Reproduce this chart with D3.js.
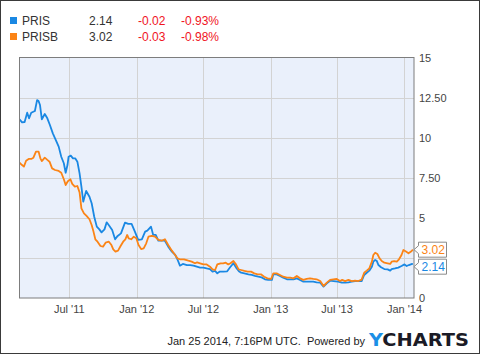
<!DOCTYPE html>
<html><head><meta charset="utf-8">
<script src="https://cdn.jsdelivr.net/npm/d3@7"></script>
<style>
html,body{margin:0;padding:0;background:#fff;}
svg{display:block;font-family:"Liberation Sans",Arial,sans-serif;}
</style></head>
<body><svg id="c" width="480" height="354"></svg>
<script>
const tickLabels = ["Jul '11","Jan '12","Jul '12","Jan '13","Jul '13","Jan '14"];
const tickDates = ["2011-07-01","2012-01-01","2012-07-01","2013-01-01","2013-07-01","2014-01-01"];
const yTicks = [0,2.5,5,7.5,10,12.5,15];

const prisDates = ["2011-02-15","2011-02-22","2011-03-01","2011-03-08","2011-03-13","2011-03-19","2011-03-29","2011-04-04","2011-04-08","2011-04-12","2011-04-17","2011-04-25","2011-05-02","2011-05-09","2011-05-17","2011-05-27","2011-06-02","2011-06-09","2011-06-16","2011-06-21","2011-06-26","2011-06-29","2011-07-05","2011-07-11","2011-07-17","2011-07-23","2011-07-29","2011-08-03","2011-08-08","2011-08-16","2011-08-25","2011-08-31","2011-09-07","2011-09-14","2011-09-21","2011-09-27","2011-10-05","2011-10-11","2011-10-18","2011-10-26","2011-11-03","2011-11-10","2011-11-19","2011-11-30","2011-12-09","2011-12-18","2011-12-27","2012-01-05","2012-01-15","2012-01-24","2012-01-30","2012-02-09","2012-02-15","2012-02-22","2012-02-29","2012-03-09","2012-03-18","2012-03-27","2012-04-06","2012-04-15","2012-04-21","2012-04-28","2012-05-06","2012-05-17","2012-05-26","2012-06-04","2012-06-13","2012-06-22","2012-07-01","2012-07-10","2012-07-19","2012-07-26","2012-08-02","2012-08-08","2012-08-15","2012-08-24","2012-09-04","2012-09-12","2012-09-21","2012-09-30","2012-10-07","2012-10-12","2012-10-21","2012-11-01","2012-11-10","2012-11-19","2012-11-28","2012-12-07","2012-12-16","2012-12-25","2013-01-04","2013-01-08","2013-01-17","2013-01-26","2013-02-04","2013-02-14","2013-02-23","2013-03-04","2013-03-13","2013-03-22","2013-03-31","2013-04-09","2013-04-18","2013-04-27","2013-05-06","2013-05-16","2013-05-25","2013-06-03","2013-06-12","2013-06-21","2013-07-04","2013-07-14","2013-07-23","2013-08-01","2013-08-10","2013-08-19","2013-08-28","2013-09-06","2013-09-13","2013-09-20","2013-09-27","2013-10-04","2013-10-08","2013-10-13","2013-10-17","2013-10-22","2013-10-29","2013-11-07","2013-11-16","2013-11-23","2013-11-27","2013-12-06","2013-12-15","2013-12-24","2014-01-01","2014-01-07","2014-01-13","2014-01-22","2014-01-24"];
const prisValues = [11.17,10.98,11.0,11.58,11.23,11.58,11.69,12.37,12.31,12.06,11.17,11.5,11.23,10.81,10.29,9.77,9.46,8.83,8.42,7.83,8.31,8.83,8.9,8.73,8.73,8.52,7.79,6.96,6.02,6.69,6.33,5.92,5.08,4.46,4.29,4.1,4.29,4.73,4.52,4.25,3.67,3.88,4.04,4.71,4.63,4.63,4.15,3.63,3.67,4.15,4.21,4.46,3.94,3.94,3.58,3.58,3.58,3.21,2.9,2.69,2.42,2.02,2.13,2.06,2.06,2.02,1.96,1.9,1.9,1.85,1.81,1.65,1.69,1.54,1.65,1.65,1.67,1.92,2.17,1.85,1.65,1.58,1.54,1.48,1.44,1.38,1.33,1.29,1.17,1.13,1.13,1.48,1.48,1.38,1.27,1.17,1.17,1.17,1.23,1.13,1.02,1.02,1.02,1.02,0.98,0.96,0.71,0.92,1.08,1.06,1.02,0.96,0.96,0.98,1.02,1.06,1.06,1.06,1.44,1.58,1.71,1.96,2.27,2.38,2.33,2.06,1.92,1.81,1.79,1.71,1.81,1.85,1.9,2.0,2.1,2.0,2.06,2.13,2.14];

const prisbDates = ["2011-02-15","2011-02-22","2011-02-27","2011-03-05","2011-03-12","2011-03-19","2011-03-25","2011-04-01","2011-04-08","2011-04-13","2011-04-17","2011-04-25","2011-05-02","2011-05-08","2011-05-15","2011-05-23","2011-06-02","2011-06-09","2011-06-16","2011-06-21","2011-06-27","2011-07-04","2011-07-09","2011-07-16","2011-07-23","2011-07-29","2011-08-03","2011-08-10","2011-08-17","2011-08-25","2011-08-31","2011-09-05","2011-09-10","2011-09-16","2011-09-24","2011-10-01","2011-10-08","2011-10-17","2011-10-24","2011-10-29","2011-11-04","2011-11-11","2011-11-18","2011-11-25","2011-12-01","2011-12-06","2011-12-10","2011-12-17","2011-12-24","2011-12-31","2012-01-06","2012-01-13","2012-01-20","2012-01-27","2012-02-02","2012-02-11","2012-02-20","2012-02-29","2012-03-09","2012-03-18","2012-03-27","2012-04-06","2012-04-15","2012-04-21","2012-04-28","2012-05-09","2012-05-21","2012-05-30","2012-06-08","2012-06-14","2012-06-22","2012-07-01","2012-07-10","2012-07-19","2012-07-26","2012-08-02","2012-08-08","2012-08-17","2012-08-24","2012-08-31","2012-09-07","2012-09-13","2012-09-21","2012-09-28","2012-10-05","2012-10-12","2012-10-21","2012-10-30","2012-11-08","2012-11-17","2012-11-26","2012-12-05","2012-12-14","2012-12-23","2013-01-02","2013-01-08","2013-01-17","2013-01-26","2013-02-04","2013-02-14","2013-02-23","2013-03-04","2013-03-13","2013-03-22","2013-03-31","2013-04-09","2013-04-18","2013-04-27","2013-05-06","2013-05-16","2013-05-25","2013-06-03","2013-06-12","2013-06-21","2013-06-30","2013-07-09","2013-07-15","2013-07-23","2013-08-01","2013-08-10","2013-08-19","2013-08-28","2013-09-06","2013-09-13","2013-09-20","2013-09-27","2013-10-04","2013-10-08","2013-10-13","2013-10-19","2013-10-25","2013-10-31","2013-11-07","2013-11-16","2013-11-23","2013-11-27","2013-12-04","2013-12-11","2013-12-17","2013-12-24","2013-12-29","2014-01-05","2014-01-12","2014-01-19","2014-01-24"];
const prisbValues = [8.46,8.31,8.21,8.58,8.69,8.69,8.77,9.15,9.15,8.73,8.56,8.77,8.63,8.52,8.1,8.0,7.94,7.83,7.42,7.06,7.3,7.42,7.13,6.96,7.0,6.6,5.6,5.29,5.13,4.92,4.56,4.15,3.67,3.52,3.25,3.21,3.46,3.52,3.31,3.04,2.9,2.96,3.25,3.52,3.67,3.94,3.73,3.67,3.83,3.73,3.31,3.06,3.1,3.42,3.83,3.88,3.83,3.63,3.58,3.67,3.31,2.96,2.69,2.48,2.42,2.42,2.33,2.27,2.17,2.23,2.17,2.1,2.1,1.96,1.79,1.75,2.1,2.17,2.17,2.21,2.1,2.17,2.31,2.1,1.79,1.75,1.69,1.65,1.65,1.54,1.48,1.48,1.33,1.23,1.19,1.54,1.54,1.44,1.33,1.27,1.27,1.23,1.38,1.23,1.13,1.19,1.23,1.19,1.17,1.06,0.75,0.96,1.13,1.17,1.19,1.06,1.13,1.06,1.13,1.06,1.08,1.06,1.15,1.58,1.71,1.85,2.27,2.69,2.83,2.75,2.48,2.31,2.21,2.17,2.13,2.27,2.31,2.27,2.42,2.69,3.0,2.9,2.79,2.9,3.02];

const seriesNames = ["PRIS","PRISB"];
const seriesColors = ["#1a88e3","#fb8416"];
const lastPrices = ["2.14","3.02"];
const changes = ["-0.02","-0.03"];
const pctChanges = ["-0.93%","-0.98%"];
const footerText = "Jan 25 2014, 7:16PM UTC.  Powered by";

const parse = d3.timeParse("%Y-%m-%d");
const svg = d3.select("#c");
const W = 480, H = 354;
const plot = {l:19.5, r:414, t:58, b:298};

svg.append("rect").attr("x",0.5).attr("y",0.5).attr("width",W-1).attr("height",H-1)
  .attr("fill","#fff").attr("stroke","#3a3a3a");

const x = d3.scaleTime().domain([parse("2011-02-15"), parse("2014-01-27")]).range([plot.l, plot.r]);
const y = d3.scaleLinear().domain([0,15]).range([plot.b, plot.t]);

svg.append("rect").attr("x",plot.l).attr("y",plot.t).attr("width",plot.r-plot.l).attr("height",plot.b-plot.t)
  .attr("fill","#eaf0fb");

// gridlines
const g = svg.append("g");
g.selectAll("line.h").data(yTicks.filter(d=>d>0&&d<15)).join("line")
  .attr("x1",plot.l).attr("x2",plot.r).attr("y1",d=>Math.round(y(d))+0.5).attr("y2",d=>Math.round(y(d))+0.5)
  .attr("stroke","#d3d3d3").attr("stroke-width",1);
g.selectAll("line.v").data(tickDates).join("line")
  .attr("x1",d=>Math.round(x(parse(d)))+0.5).attr("x2",d=>Math.round(x(parse(d)))+0.5)
  .attr("y1",plot.t).attr("y2",plot.b)
  .attr("stroke","#d3d3d3").attr("stroke-width",1);

// x labels
svg.append("g").selectAll("text").data(tickDates).join("text")
  .attr("x",d=>x(parse(d))).attr("y",313).attr("text-anchor","middle")
  .attr("font-size",11).attr("fill","#444").text((d,i)=>tickLabels[i]);

// lines
const line = d3.line().x(d=>x(d[0])).y(d=>y(d[1]));
const data = [
  prisDates.map((d,i)=>[parse(d), prisValues[i]]),
  prisbDates.map((d,i)=>[parse(d), prisbValues[i]])
];
svg.append("clipPath").attr("id","pc").append("rect")
  .attr("x",plot.l).attr("y",plot.t).attr("width",plot.r-plot.l).attr("height",plot.b-plot.t);
data.forEach((s,i)=>{
  svg.append("path").datum(s).attr("d",line).attr("fill","none")
    .attr("stroke",seriesColors[i]).attr("stroke-width",1.8).attr("stroke-linejoin","round")
    .attr("clip-path","url(#pc)");
});

// plot border
svg.append("rect").attr("x",plot.l).attr("y",plot.t-0.5).attr("width",plot.r-plot.l).attr("height",plot.b-plot.t+0.5)
  .attr("fill","none").attr("stroke","#7d7d7d").attr("stroke-width",1);

// end label positions
const bh = 15, bw = 28;
let labels = data.map((s,i)=>({i, cy: y(s[s.length-1][1])}));
labels.sort((a,b)=>a.cy-b.cy);
for (let k=1;k<labels.length;k++){
  const minCy = labels[k-1].cy + bh + 2;
  if (labels[k].cy < minCy) labels[k].cy = minCy;
}

// y labels (those hidden behind the end labels are skipped, as in the reference)
const fmt = v => Number.isInteger(v) ? String(v) : v.toFixed(2);
const visibleY = yTicks.filter(v => !labels.some(l => Math.abs(y(v) - l.cy) < bh/2 + 5));
svg.append("g").selectAll("text").data(visibleY).join("text")
  .attr("x",419).attr("y",d=>y(d)+4).attr("font-size",11).attr("fill","#444").text(fmt);

labels.forEach(l=>{
  const x0 = 418.5, cy = l.cy;
  const gg = svg.append("g");
  gg.append("path")
    .attr("d",`M${x0},${cy-bh/2} L${x0+bw},${cy-bh/2} L${x0+bw},${cy+bh/2} L${x0},${cy+bh/2} L${x0},${cy+4} L${x0-4.5},${cy} L${x0},${cy-4} Z`)
    .attr("fill","#fff").attr("stroke","#8a8a8a").attr("stroke-width",1);
  gg.append("text").attr("x",x0+3).attr("y",cy+4.5).attr("font-size",12)
    .attr("fill",seriesColors[l.i]).text(lastPrices[l.i]);
});

// legend
const lg = svg.append("g");
seriesNames.forEach((n,i)=>{
  const yy = 17 + i*16;
  lg.append("rect").attr("x",10).attr("y",yy).attr("width",7).attr("height",7).attr("fill",seriesColors[i]);
  lg.append("text").attr("x",22).attr("y",yy+8).attr("font-size",12).attr("fill","#333").text(n);
  lg.append("text").attr("x",89).attr("y",yy+8).attr("font-size",12).attr("fill","#333").text(lastPrices[i]);
  lg.append("text").attr("x",138).attr("y",yy+8).attr("font-size",12).attr("fill","#f0141e").text(changes[i]);
  lg.append("text").attr("x",181).attr("y",yy+8).attr("font-size",12).attr("fill","#f0141e").text(pctChanges[i]);
});

// footer
svg.append("text").attr("x",365).attr("y",345).attr("text-anchor","end")
  .attr("font-size",11).attr("fill","#222").attr("xml:space","preserve").text(footerText);
const logo = svg.append("text").attr("x",369).attr("y",346).attr("font-size",17.5)
  .attr("font-weight","bold").attr("font-family","'DejaVu Sans',sans-serif")
  .attr("textLength",100).attr("lengthAdjust","spacingAndGlyphs");
logo.append("tspan").attr("fill","#1b8fe6").text("Y");
logo.append("tspan").attr("fill","#1b1b26").text("CHARTS");
</script></body></html>
